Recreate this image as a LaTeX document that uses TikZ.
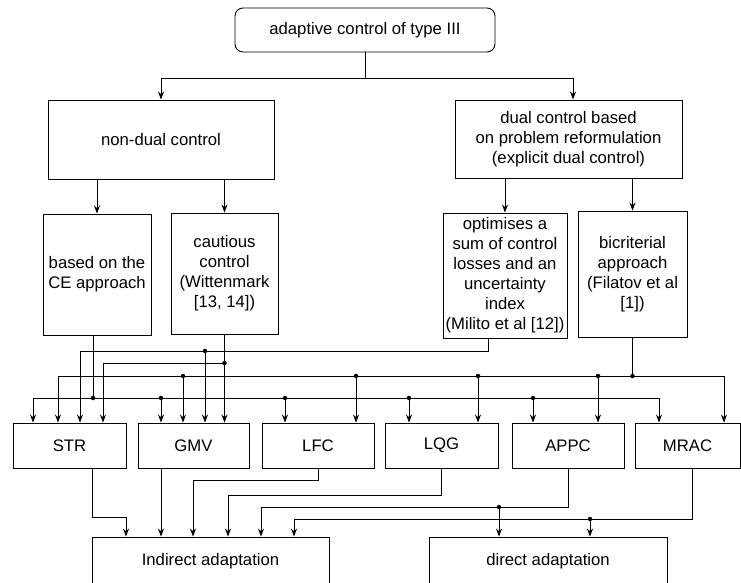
\documentclass[tikz,border=0pt]{standalone}
\usepackage{fontspec}
\setmainfont{Liberation Sans}
\usetikzlibrary{arrows.meta,calc}
\begin{document}
\begin{tikzpicture}[x=1pt,y=-1pt,
  box/.style={draw, line width=0.9pt, inner sep=0pt, align=center, font=\fontsize{16.7}{20}\selectfont},
  arr/.style={line width=0.9pt, -{Stealth[length=8pt,width=6pt]}},
  ln/.style={line width=0.9pt},
  jdot/.style={circle, fill, inner sep=0pt, minimum size=4.5pt}]
\useasboundingbox (0,0) rectangle (741,582);
\clip (0,0) rectangle (741,582);
\fill[white] (0,0) rectangle (741,582);

% boxes
\node[box, minimum width=260pt, minimum height=44pt, rounded corners=8pt] (top) at (365,30) {adaptive control of type III};
\node[box, minimum width=226pt, minimum height=79pt] (nondual) at (161,139.5) {non-dual control};
\node[box, minimum width=227pt, minimum height=78pt] (dual) at (568.5,139) {dual control based\\on problem reformulation\\(explicit dual control)};
\node[box, minimum width=108pt, minimum height=121pt] (ce) at (97,274.5) {based on the\\CE approach};
\node[box, minimum width=107pt, minimum height=121pt] (caut) at (224.5,273.5) {cautious\\control\\(Wittenmark\\{[13, 14])}};
\node[box, minimum width=124pt, minimum height=125pt] (milito) at (505,275.5) {optimises a\\sum of control\\losses and an\\uncertainty\\index\\(Milito et al [12])};
\node[box, minimum width=109pt, minimum height=126pt] (filatov) at (632.5,274) {bicriterial\\approach\\(Filatov et al\\{[1])}};

\node[box, minimum width=113pt, minimum height=45pt] (str) at (69.5,445.5) {STR};
\node[box, minimum width=111pt, minimum height=45pt] (gmv) at (193.5,445.5) {GMV};
\node[box, minimum width=112pt, minimum height=45pt] (lfc) at (318,445.5) {LFC};
\node[box, minimum width=113pt, minimum height=45pt] (lqg) at (441.5,445.5) {LQG};
\node[box, minimum width=112pt, minimum height=45pt] (appc) at (568,445.5) {APPC};
\node[box, minimum width=105pt, minimum height=45pt] (mrac) at (687.5,445.5) {MRAC};

\node[box, minimum width=237pt, minimum height=48pt] (indirect) at (210.5,561) {Indirect adaptation};
\node[box, minimum width=238pt, minimum height=48pt] (direct) at (548,561) {direct adaptation};

% top level
\coordinate (j0) at (365,78);
\draw[ln] (top.south) -- (j0);
\draw[arr] (j0) -| (nondual.north);
\draw[arr] (j0) -| ([xshift=4.5pt]dual.north);
\draw[arr] (nondual.south -| ce.north) -- (ce.north);
\draw[arr] (nondual.south -| caut.north) -- (caut.north);
\draw[arr] (dual.south -| milito.north) -- (milito.north);
\draw[arr] (dual.south -| filatov.north) -- (filatov.north);

% bus 1 (Milito)
\coordinate (b1j) at (488,351);
\coordinate (b1a) at (80,351);
\coordinate (b1b) at (205,351);
\draw[ln] (milito.south -| b1j) -- (b1j) -- (b1a);
\draw[arr] (b1a) -- (b1a |- str.north);
\draw[arr] (b1b) -- (b1b |- gmv.north);

% bus 2 (cautious)
\coordinate (b2j) at (224.5,363);
\coordinate (b2a) at (103,363);
\draw[arr] (caut.south) -- (caut.south |- gmv.north);
\draw[ln] (b2j) -- (b2a);
\draw[arr] (b2a) -- (b2a |- str.north);

% bus 3 (Filatov)
\coordinate (b3j) at (632.5,376);
\coordinate (b3a) at (58,376);
\coordinate (b3b) at (183,376);
\coordinate (b3c) at (356,376);
\coordinate (b3d) at (478,376);
\coordinate (b3e) at (598,376);
\coordinate (b3f) at (724,376);
\draw[ln] (filatov.south) -- (b3j);
\draw[ln] (b3a) -- (b3f);
\foreach \p/\n in {b3a/str, b3b/gmv, b3c/lfc, b3d/lqg, b3e/appc, b3f/mrac}
  \draw[arr] (\p) -- (\p |- \n.north);

% bus 4 (CE)
\coordinate (b4j) at (93,398);
\coordinate (b4a) at (33,398);
\coordinate (b4c) at (161,398);
\coordinate (b4d) at (285,398);
\coordinate (b4e) at (409,398);
\coordinate (b4f) at (533,398);
\coordinate (b4g) at (659,398);
\draw[ln] (ce.south -| b4j) -- (b4j);
\draw[ln] (b4a) -- (b4g);
\foreach \p/\n in {b4a/str, b4c/gmv, b4d/lfc, b4e/lqg, b4f/appc, b4g/mrac}
  \draw[arr] (\p) -- (\p |- \n.north);

% junction dots
\foreach \p in {b1b, b2j, b3b, b3c, b3d, b3e, b3j, b4j, b4c, b4d, b4e, b4f}
  \node[jdot] at (\p) {};

% lower connections
\coordinate (c1) at (92,517);
\coordinate (c2) at (126,517);
\draw[arr] (str.south -| c1) -- (c1) -- (c2) -- (c2 |- indirect.north);

\coordinate (g1) at (161,468);
\draw[arr] (gmv.south -| g1) -- (g1 |- indirect.north);

\coordinate (l1) at (318,480);
\coordinate (l2) at (193,480);
\draw[arr] (lfc.south) -- (l1) -- (l2) -- (l2 |- indirect.north);

\coordinate (q1) at (441.5,495);
\coordinate (q2) at (228,495);
\draw[arr] (lqg.south) -- (q1) -- (q2) -- (q2 |- indirect.north);

\coordinate (a1) at (568,507);
\coordinate (a2) at (261,507);
\coordinate (ad) at (499,507);
\draw[arr] (appc.south) -- (a1) -- (a2) -- (a2 |- indirect.north);
\draw[arr] (ad) -- (ad |- direct.north);

\coordinate (m1) at (692,519);
\coordinate (m2) at (294,519);
\coordinate (md) at (590,519);
\draw[arr] (mrac.south -| m1) -- (m1) -- (m2) -- (m2 |- indirect.north);
\draw[arr] (md) -- (md |- direct.north);

\foreach \p in {ad, md}
  \node[jdot] at (\p) {};
\end{tikzpicture}
\end{document}
